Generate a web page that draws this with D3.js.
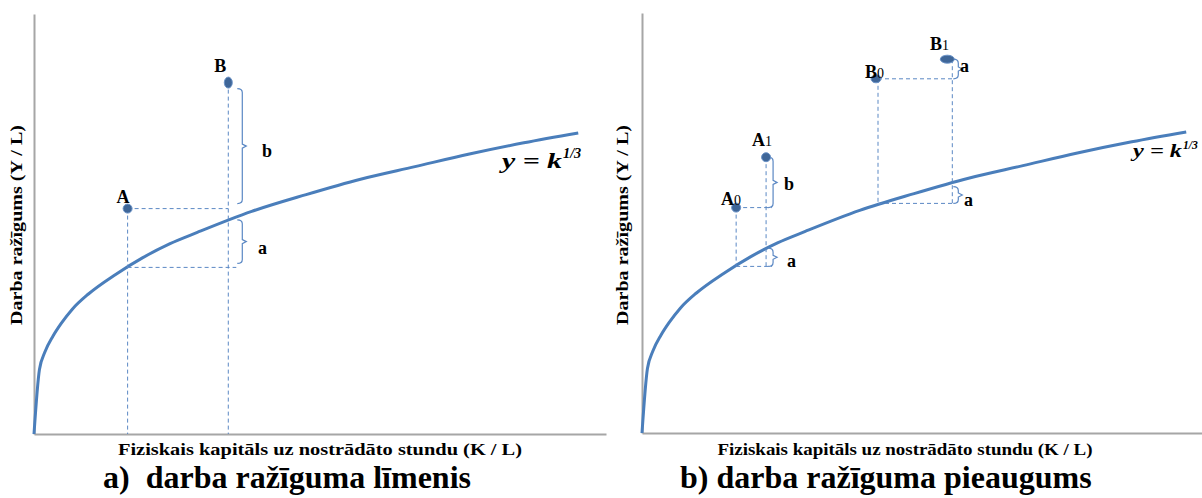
<!DOCTYPE html>
<html>
<head>
<meta charset="utf-8">
<script src="https://cdn.jsdelivr.net/npm/d3@7/dist/d3.min.js"></script>
<style>
  body { margin: 0; background: #fff; }
  svg { display: block; }
  .serif { font-family: "Liberation Serif", "Times New Roman", serif; font-weight: bold; fill: #000; }
  .math { font-family: "Liberation Serif", "DejaVu Serif", serif; font-weight: bold; font-style: italic; fill: #000; }
</style>
</head>
<body>
<div id="chart"></div>
<script>
// curve y = k^(1/3)
const curveK = [0, 0.1, 0.2, 0.35, 0.5, 0.7, 1, 1.5, 2, 2.5, 3, 4, 5, 6, 7, 8, 9, 10];
const curveY = [0, 0.46, 0.585, 0.70, 0.79, 0.89, 1.0, 1.14, 1.26, 1.36, 1.44, 1.59, 1.71, 1.82, 1.91, 2.0, 2.08, 2.15];

// panel a points
const pointsA = ["A", "B"];
const pointsAK = [1.72, 3.57];
const pointsAY = [1.61, 2.51];
const curveAtA = [1.19, 1.53]; // curve level under A and B

// panel b points
const pointsB = ["A0", "A1", "B0", "B1"];
const pointsBK = [1.73, 2.28, 4.30, 5.61];
const pointsBY = [1.61, 1.97, 2.53, 2.67];
const curveAtB = [1.19, 1.32, 1.64, 1.76];

const xTitle = "Fiziskais kapitāls uz nostrādāto stundu (K / L)";
const yTitle = "Darba ražīgums (Y / L)";
const subtitles = ["a)  darba ražīguma līmenis", "b) darba ražīguma pieaugums"];

const width = 1202, height = 498;
const curveColor = "#4a7ebb";
const dashColor = "#5b88c4";
const dotColor = "#3f6698";

const svg = d3.select("#chart").append("svg")
    .attr("width", width)
    .attr("height", height);

function makePanel(xRange, yRange, kMax) {
    const x = d3.scaleLinear().domain([0, kMax]).range(xRange);
    const y = d3.scaleLinear().domain([0, 3]).range(yRange);

    svg.append("g")
        .attr("transform", "translate(0," + yRange[0] + ")")
        .call(d3.axisBottom(x).ticks(0).tickSizeOuter(0))
        .select(".domain").attr("stroke", "#a6a6a6").attr("stroke-width", 2);
    svg.append("g")
        .attr("transform", "translate(" + xRange[0] + ",0)")
        .call(d3.axisLeft(y).ticks(0).tickSizeOuter(0))
        .select(".domain").attr("stroke", "#a6a6a6").attr("stroke-width", 2);

    const line = d3.line()
        .x((d, i) => x(curveK[i]))
        .y((d, i) => y(curveY[i]))
        .curve(d3.curveMonotoneX);
    svg.append("path")
        .datum(curveY)
        .attr("d", line)
        .attr("fill", "none")
        .attr("stroke", curveColor)
        .attr("stroke-width", 3)
        .attr("stroke-linejoin", "round");

    return { x, y };
}

function dashed(x1, y1, x2, y2) {
    svg.append("line")
        .attr("x1", x1).attr("y1", y1).attr("x2", x2).attr("y2", y2)
        .attr("stroke", dashColor)
        .attr("stroke-width", 1)
        .attr("stroke-dasharray", "4,3");
}

function brace(bx, top, bottom, label, lx, ly) {
    const mid = (top + bottom) / 2;
    svg.append("path")
        .attr("d", `M${bx - 5},${top} Q${bx},${top} ${bx},${top + 4} V${mid - 2} L${bx + 4},${mid} L${bx},${mid + 2} V${bottom - 4} Q${bx},${bottom} ${bx - 5},${bottom}`)
        .attr("fill", "none")
        .attr("stroke", dashColor)
        .attr("stroke-width", 1.2);
    svg.append("text")
        .attr("class", "serif")
        .attr("x", lx).attr("y", ly)
        .style("font-size", "18px")
        .text(label);
}

function dot(cx, cy, rx, ry) {
    svg.append("ellipse")
        .attr("cx", cx).attr("cy", cy)
        .attr("rx", rx).attr("ry", ry)
        .attr("fill", dotColor)
        .attr("stroke", "#6b93c8")
        .attr("stroke-width", 1);
}

function pointLabel(name, px, py) {
    const t = svg.append("text")
        .attr("class", "serif")
        .attr("x", px).attr("y", py)
        .style("font-size", "18px");
    t.append("tspan").text(name[0]);
    if (name.length > 1) t.append("tspan").style("font-size", "14px").style("font-weight", "normal").text(name.slice(1));
}

function formula(px, py, len, size) {
    svg.append("text")
        .attr("class", "math")
        .attr("x", px).attr("y", py)
        .attr("textLength", len)
        .attr("lengthAdjust", "spacingAndGlyphs")
        .style("font-size", size + "px")
        .text("y = k");
    svg.append("text")
        .attr("class", "math")
        .attr("x", px + len + 1).attr("y", py - size * 0.45)
        .style("font-size", (size * 0.65) + "px")
        .text("1/3");
}

function titles(cx, yx, xw, size) {
    svg.append("text")
        .attr("class", "serif")
        .attr("x", cx).attr("y", 455)
        .attr("text-anchor", "middle")
        .attr("textLength", xw)
        .attr("lengthAdjust", "spacingAndGlyphs")
        .style("font-size", size + "px")
        .text(xTitle);
    svg.append("text")
        .attr("class", "serif")
        .attr("transform", "translate(" + yx + ",225) rotate(-90)")
        .attr("text-anchor", "middle")
        .attr("textLength", 200)
        .attr("lengthAdjust", "spacingAndGlyphs")
        .style("font-size", "17px")
        .text(yTitle);
}

// ---------- panel a ----------
const pa = makePanel([34, 606], [434, 14], 10.51);
{
    const { x, y } = pa;
    const ax = x(pointsAK[0]), ay = y(pointsAY[0]);
    const bx = x(pointsAK[1]), by = y(pointsAY[1]);
    dashed(ax, ay, bx, ay);
    dashed(ax, y(curveAtA[0]), bx + 8, y(curveAtA[0]));
    dashed(ax, ay, ax, y(0));
    dashed(bx, by, bx, y(0));
    brace(bx + 14, by + 6, ay - 5, "b", 262, 157);
    brace(bx + 14, y(curveAtA[1]), y(curveAtA[0]) - 4, "a", 258, 254);
    dot(ax, ay, 4.5, 4.5);
    dot(bx, by, 4, 5.5);
    pointLabel(pointsA[0], ax - 11, 203);
    pointLabel(pointsA[1], bx - 14, 72);
    formula(502, 168, 60, 22);
}
titles(320, 22, 404, 17);

// ---------- panel b ----------
const pb = makePanel([642, 1202], [433, 13], 10.29);
{
    const { x, y } = pb;
    const xs = pointsBK.map(x), ys = pointsBY.map(y), cs = curveAtB.map(y);
    // A0 -> A1
    dashed(xs[0], ys[0], xs[1] + 6, ys[0]);
    dashed(xs[0], ys[0], xs[0], cs[0]);
    dashed(xs[1], ys[1], xs[1], cs[0]);
    dashed(xs[0], cs[0], xs[1] + 6, cs[0]);
    brace(xs[1] + 7, ys[1], ys[0], "b", 784, 190);
    brace(xs[1] + 7, cs[1], cs[0], "a", 787, 267);
    // B0 -> B1
    dashed(xs[2] + 2, ys[2], xs[3] + 5, ys[2]);
    dashed(xs[2] + 2, ys[2], xs[2] + 2, cs[2]);
    dashed(xs[3] + 5, ys[3], xs[3] + 5, cs[2]);
    dashed(xs[2] + 2, cs[2], xs[3] + 5, cs[2]);
    brace(xs[3] + 11, ys[3], ys[2], "a", 960, 72);
    brace(xs[3] + 11, cs[3], cs[2], "a", 964, 206);
    dot(xs[0], ys[0], 4.5, 4.5);
    dot(xs[1], ys[1], 4.5, 4.5);
    dot(xs[2], ys[2], 5, 4);
    dot(xs[3], ys[3], 7, 4);
    pointLabel(pointsB[0], 721, 205);
    pointLabel(pointsB[1], 752, 146);
    pointLabel(pointsB[2], 865, 78);
    pointLabel(pointsB[3], 930, 50);
    formula(1133, 157, 49, 18);
}
titles(905, 628, 375, 16);

svg.append("text").attr("class", "serif")
    .attr("x", 103).attr("y", 488)
    .style("font-size", "32px")
    .style("white-space", "pre")
    .text(subtitles[0]);
svg.append("text").attr("class", "serif")
    .attr("x", 680).attr("y", 488)
    .style("font-size", "32px")
    .text(subtitles[1]);
</script>
</body>
</html>
